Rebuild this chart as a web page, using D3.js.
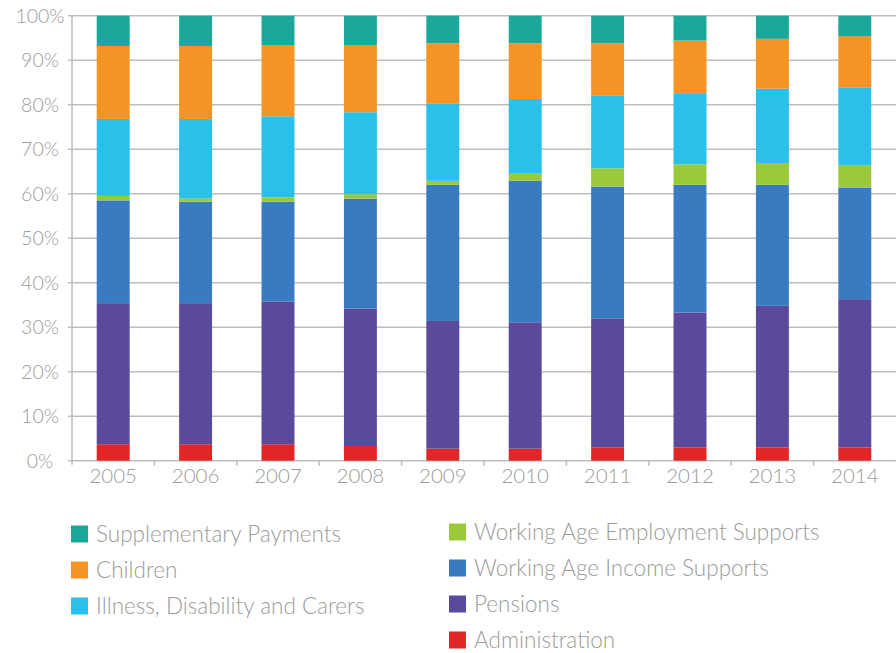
<!DOCTYPE html>
<html><head><meta charset="utf-8">
<script src="https://cdn.jsdelivr.net/npm/d3@7"></script>
<style>body{margin:0;background:#fff}svg{display:block}text{font-family:Lato,"Open Sans",sans-serif;font-weight:300;fill:#9b9b9b}</style>
</head><body><svg id="c" width="896" height="653"></svg>
<script>
const years = ["2005","2006","2007","2008","2009","2010","2011","2012","2013","2014"];
const seriesNames = ["Administration","Pensions","Working Age Income Supports","Working Age Employment Supports","Illness, Disability and Carers","Children","Supplementary Payments"];
const administration = [3.7,3.7,3.7,3.3,2.7,2.7,3.0,3.0,3.0,3.0];
const pensions = [31.7,31.7,32.1,30.9,28.7,28.4,29.0,30.3,31.8,33.3];
const incomeSupports = [23.1,22.8,22.4,24.7,30.6,31.8,29.6,28.7,27.2,25.0];
const employmentSupports = [1.0,0.7,1.0,1.0,0.9,1.6,4.1,4.6,4.9,5.1];
const illness = [17.3,17.9,18.2,18.4,17.3,16.8,16.3,16.0,16.7,17.5];
const children = [16.4,16.4,16.0,15.1,13.6,12.5,11.8,11.8,11.2,11.5];
const supplementary = [6.8,6.8,6.6,6.6,6.2,6.2,6.2,5.6,5.2,4.6];
const yTicks = [0,10,20,30,40,50,60,70,80,90,100];
const colors = ["#e12628","#5b4a9c","#387bc0","#9bc93b","#29c0ea","#f59324","#1ba89a"];
const legendLeft = ["Supplementary Payments","Children","Illness, Disability and Carers"];
const legendRight = ["Working Age Employment Supports","Working Age Income Supports","Pensions","Administration"];

const values = [administration,pensions,incomeSupports,employmentSupports,illness,children,supplementary];
const rows = years.map((y,i)=>{const r={year:y};seriesNames.forEach((s,k)=>r[s]=values[k][i]);return r;});
const stack = d3.stack().keys(seriesNames).offset(d3.stackOffsetExpand)(rows);
const color = d3.scaleOrdinal(seriesNames, colors);

const svg = d3.select("#c");
const x = d3.scaleBand(years,[72,896]).paddingInner(0.6).paddingOuter(0.3);
const y = d3.scaleLinear([0,1],[460.7,15.7]);

// gridlines
svg.append("g").selectAll("line").data(yTicks).join("line")
  .attr("x1",68).attr("x2",896).attr("y1",d=>y(d/100)).attr("y2",d=>y(d/100))
  .attr("stroke","#bdbdbd").attr("stroke-width",1.5);
svg.append("line").attr("x1",72).attr("x2",72).attr("y1",y(1)).attr("y2",y(0)+4).attr("stroke","#bdbdbd").attr("stroke-width",1.5);

// y labels
svg.append("g").selectAll("text").data(yTicks).join("text")
  .attr("x",40).attr("y",d=>y(d/100)+7).attr("text-anchor","middle").attr("font-size",19.5).text(d=>d+"%");

// bars
svg.append("g").selectAll("g").data(stack).join("g").attr("fill",d=>color(d.key))
  .selectAll("rect").data(d=>d).join("rect")
  .attr("x",d=>x(d.data.year)).attr("width",x.bandwidth())
  .attr("y",d=>y(d[1])).attr("height",d=>y(d[0])-y(d[1]));

// x axis labels
const xa = d3.axisBottom(x).tickSize(0).tickPadding(0);
const gx = svg.append("g").attr("transform",`translate(0,${y(0)})`).call(xa);
gx.select(".domain").remove();
gx.selectAll("text").attr("dy",null).attr("y",22).attr("font-size",20.5).attr("fill","#9b9b9b").style("font-family","Lato, sans-serif").style("font-weight",300);
svg.append("g").selectAll("line").data(years.slice(1)).join("line")
  .attr("x1",d=>x(d)-x.step()*x.paddingInner()/2).attr("x2",d=>x(d)-x.step()*x.paddingInner()/2)
  .attr("y1",y(0)).attr("y2",y(0)+5).attr("stroke","#bdbdbd").attr("stroke-width",1.5);

// legend
function legend(items,x0,y0){
  const g = svg.append("g");
  const it = g.selectAll("g").data(items).join("g").attr("transform",(d,i)=>`translate(${x0},${y0+i*36})`);
  it.append("rect").attr("x",0).attr("y",-8.5).attr("width",17).attr("height",17).attr("fill",d=>color(d));
  it.append("text").attr("x",25).attr("y",8).attr("font-size",22.5).text(d=>d);
}
legend(legendLeft,71,534);
legend(legendRight,449,532);
</script></body></html>
